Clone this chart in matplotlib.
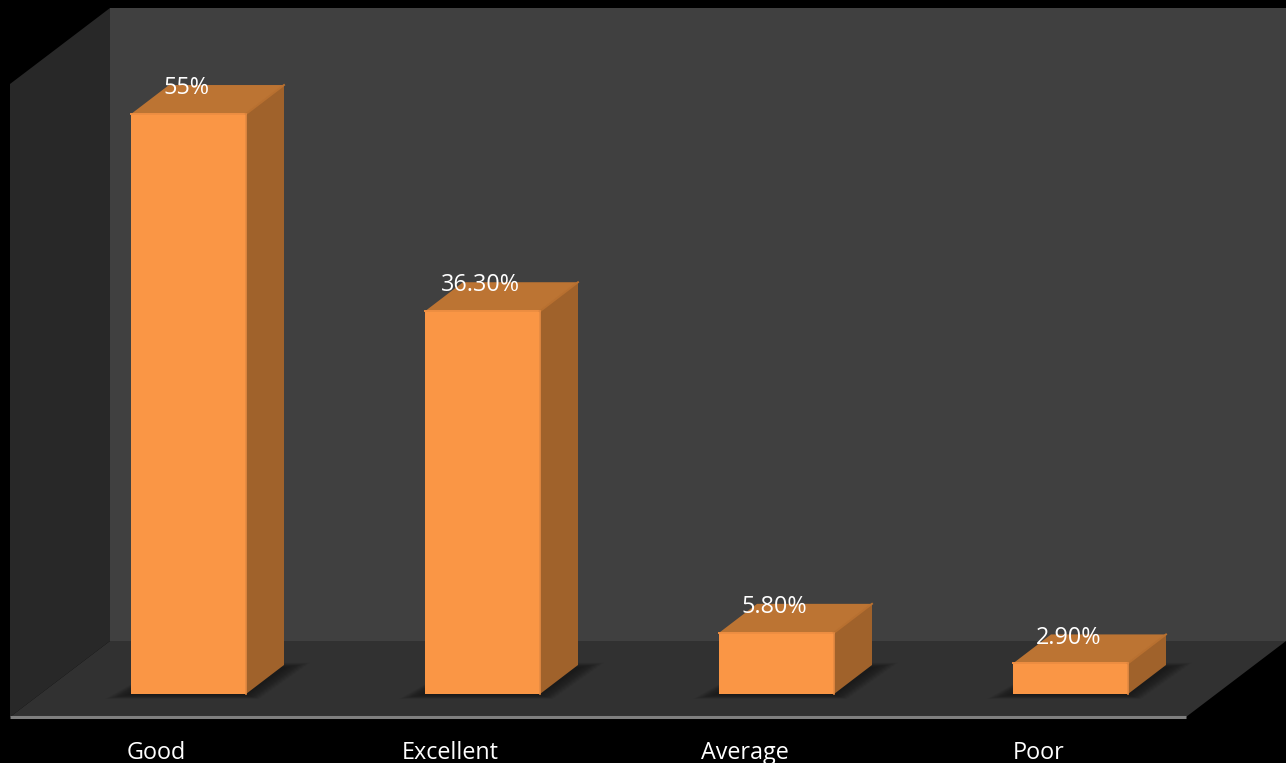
import matplotlib
matplotlib.use('agg')
import matplotlib.pyplot as plt
from matplotlib.patches import Polygon
import numpy as np

categories = ['Good', 'Excellent', 'Average', 'Poor']
values = [55, 36.3, 5.8, 2.9]
value_labels = ['55%', '36.30%', '5.80%', '2.90%']

W, H = 1286, 763
X0, STEP = 188.5, 294.0    # pixel centre of first bar, spacing
Y0, SCALE = 694.0, 10.545  # pixel of zero, px per percent
BAR_W = 115 / STEP
DX, DY = 38 / STEP, 29 / SCALE


def px(x, y):
    # picture pixels to data units, for the chart frame only
    return ((x - X0) / STEP, (Y0 - y) / SCALE)


plt.rcParams['font.family'] = ['Open Sans', 'DejaVu Sans']
fig = plt.figure(figsize=(W / 100, H / 100), dpi=100, facecolor='black')
ax = fig.add_axes([0, 0, 1, 1])
ax.set_xlim(px(0, 0)[0], px(W, 0)[0])
ax.set_ylim(px(0, H)[1], px(0, 0)[1])
ax.axis('off')

# chart box
wall = Polygon([px(110, 8), px(1286, 8), px(1286, 641), px(110, 641)], fc='#404040', ec='none', zorder=1)
side = Polygon([px(10, 84), px(110, 8), px(110, 641), px(10, 717)], fc='#282828', ec='none', zorder=1)
floor = Polygon([px(10, 717), px(110, 641), px(1286, 641), px(1186, 717)], fc='#313131', ec='none', zorder=1)
for p in (wall, side, floor):
    ax.add_patch(p)
ax.plot(*zip(px(10, 717), px(1186, 717)), color='#7f7f7f', lw=2.2, solid_capstyle='butt', zorder=2)

for i, (v, lab, cat) in enumerate(zip(values, value_labels, categories)):
    l, r = i - BAR_W / 2, i + BAR_W / 2

    # soft shadow on the floor
    for grow in np.linspace(1.0, 0.05, 16):
        gx, gy = grow * 26 / STEP, grow * 5 / SCALE
        sh = Polygon([(l - gx, -gy), (r + gx * 0.5, -gy), (r + DX + gx, DY * 0.9 + gy), (l + DX, DY * 0.9 + gy)],
                     fc='black', ec='none', alpha=0.028, zorder=2)
        ax.add_patch(sh)
        sh.set_clip_path(floor)

    # front, top and side faces
    ax.bar(i, v, BAR_W, color='#FA9645', edgecolor='none', zorder=3)
    ax.add_patch(Polygon([(l, v), (r, v), (r + DX, v + DY), (l + DX, v + DY)], fc='#BC7433', ec='none', zorder=3))
    ax.add_patch(Polygon([(r, 0), (r + DX, DY), (r + DX, v + DY), (r, v)], fc='#A0622B', ec='none', zorder=3))

    # bevel along the edges
    ax.plot([l, r], [v, v], color='#EE8E42', lw=1.4, zorder=4)
    ax.plot([r, r + DX], [v, v + DY], color='#B87030', lw=1.4, zorder=4)
    ax.plot([r, r], [0, v], color='#E58A42', lw=1.2, zorder=4)

    ax.text(i - 0.006, v + 2.45, lab, color='white', fontsize=16.8, ha='center', va='center', zorder=5)
    ax.text(i - 0.108, -5.6, cat, color='white', fontsize=16.8, ha='center', va='center', zorder=5)

fig.savefig('out.png', dpi=100, facecolor='black')
